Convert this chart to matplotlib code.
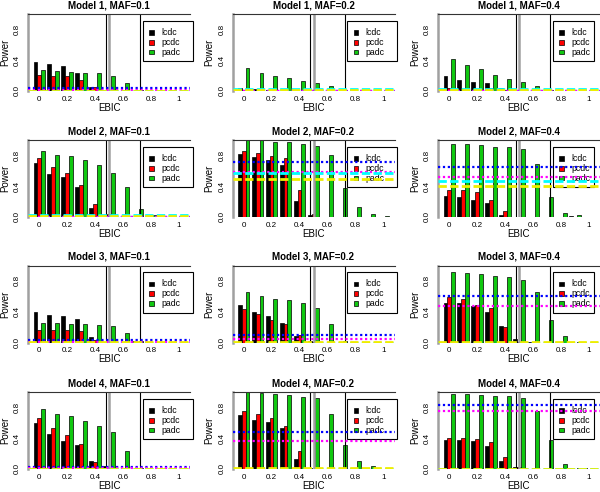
import matplotlib
matplotlib.use('Agg')
import matplotlib.pyplot as plt
from matplotlib.patches import Rectangle
import numpy as np

plt.rcParams['font.family'] = ['Liberation Sans', 'DejaVu Sans']

# ---------------- data ----------------
ebic = [0.0, 0.1, 0.2, 0.3, 0.4, 0.5, 0.6, 0.7, 0.8, 0.9, 1.0]
xtick_vals = [0.0, 0.2, 0.4, 0.6, 0.8, 1.0]
xtick_labels = ['0', '0.2', '0.4', '0.6', '0.8', '1']
ytick_vals = [0.0, 0.4, 0.8]
ytick_labels = ['0.0', '0.4', '0.8']
methods = ['lcdc', 'pcdc', 'padc']
method_colors = ['#000000', '#ff0000', '#10c810']
models = ['Model 1', 'Model 2', 'Model 3', 'Model 4']
mafs = ['0.1', '0.2', '0.4']

# Model 1
m1_01_lcdc = [0.38, 0.35, 0.32, 0.23, 0.05, 0.01, 0.0, 0.0, 0.0, 0.0, 0.0]
m1_01_pcdc = [0.21, 0.195, 0.195, 0.14, 0.05, 0.0, 0.0, 0.0, 0.0, 0.0, 0.0]
m1_01_padc = [0.27, 0.26, 0.25, 0.24, 0.24, 0.20, 0.11, 0.01, 0.0, 0.0, 0.0]
m1_02_lcdc = [0.045, 0.03, 0.01, 0.005, 0.0, 0.0, 0.0, 0.0, 0.0, 0.0, 0.0]
m1_02_pcdc = [0.01, 0.0, 0.0, 0.0, 0.0, 0.0, 0.0, 0.0, 0.0, 0.0, 0.0]
m1_02_padc = [0.30, 0.24, 0.19, 0.17, 0.13, 0.105, 0.06, 0.01, 0.0, 0.0, 0.0]
m1_04_lcdc = [0.19, 0.14, 0.12, 0.11, 0.045, 0.01, 0.005, 0.0, 0.0, 0.0, 0.0]
m1_04_pcdc = [0.035, 0.01, 0.01, 0.035, 0.01, 0.0, 0.0, 0.0, 0.0, 0.0, 0.0]
m1_04_padc = [0.42, 0.34, 0.28, 0.21, 0.16, 0.12, 0.06, 0.01, 0.0, 0.0, 0.0]
# Model 2
m2_01_lcdc = [0.70, 0.56, 0.52, 0.39, 0.12, 0.02, 0.0, 0.0, 0.0, 0.0, 0.0]
m2_01_pcdc = [0.76, 0.65, 0.57, 0.42, 0.17, 0.04, 0.0, 0.0, 0.0, 0.0, 0.0]
m2_01_padc = [0.86, 0.80, 0.79, 0.74, 0.67, 0.57, 0.39, 0.10, 0.02, 0.005, 0.0]
m2_02_lcdc = [0.815, 0.775, 0.74, 0.68, 0.21, 0.025, 0.005, 0.0, 0.0, 0.0, 0.005]
m2_02_pcdc = [0.855, 0.83, 0.79, 0.77, 0.35, 0.045, 0.0, 0.0, 0.0, 0.0, 0.0]
m2_02_padc = [1.0, 0.995, 0.98, 0.98, 0.95, 0.92, 0.81, 0.375, 0.125, 0.035, 0.01]
m2_04_lcdc = [0.275, 0.255, 0.22, 0.185, 0.025, 0.0, 0.0, 0.0, 0.0, 0.01, 0.0]
m2_04_pcdc = [0.355, 0.345, 0.32, 0.22, 0.08, 0.0, 0.0, 0.0, 0.0, 0.0, 0.0]
m2_04_padc = [0.945, 0.945, 0.93, 0.915, 0.915, 0.885, 0.69, 0.255, 0.055, 0.02, 0.005]
# Model 3
m3_01_lcdc = [0.40, 0.36, 0.35, 0.30, 0.065, 0.005, 0.0, 0.02, 0.0, 0.0, 0.0]
m3_01_pcdc = [0.167, 0.167, 0.167, 0.15, 0.035, 0.0, 0.0, 0.0, 0.0, 0.0, 0.0]
m3_01_padc = [0.25, 0.25, 0.24, 0.24, 0.23, 0.22, 0.12, 0.02, 0.0, 0.0, 0.0]
m3_02_lcdc = [0.49, 0.39, 0.35, 0.25, 0.09, 0.02, 0.0, 0.0, 0.0, 0.0, 0.0]
m3_02_pcdc = [0.43, 0.375, 0.29, 0.235, 0.10, 0.01, 0.0, 0.0, 0.0, 0.0, 0.0]
m3_02_padc = [0.66, 0.61, 0.57, 0.55, 0.51, 0.45, 0.24, 0.02, 0.0, 0.0, 0.0]
m3_04_lcdc = [0.51, 0.51, 0.47, 0.40, 0.21, 0.05, 0.01, 0.0, 0.0, 0.0, 0.0]
m3_04_pcdc = [0.59, 0.57, 0.49, 0.45, 0.20, 0.01, 0.0, 0.0, 0.0, 0.0, 0.0]
m3_04_padc = [0.915, 0.90, 0.885, 0.865, 0.845, 0.815, 0.66, 0.29, 0.085, 0.01, 0.0]
# Model 4
m4_01_lcdc = [0.60, 0.455, 0.36, 0.31, 0.11, 0.035, 0.0, 0.0, 0.0, 0.0, 0.0]
m4_01_pcdc = [0.66, 0.53, 0.44, 0.33, 0.095, 0.0, 0.0, 0.0, 0.0, 0.0, 0.0]
m4_01_padc = [0.775, 0.72, 0.69, 0.62, 0.56, 0.485, 0.23, 0.01, 0.0, 0.0, 0.0]
m4_02_lcdc = [0.70, 0.64, 0.61, 0.53, 0.13, 0.01, 0.0, 0.0, 0.0, 0.0, 0.0]
m4_02_pcdc = [0.75, 0.72, 0.66, 0.56, 0.23, 0.005, 0.0, 0.0, 0.0, 0.0, 0.0]
m4_02_padc = [0.995, 0.99, 0.975, 0.955, 0.94, 0.92, 0.72, 0.31, 0.11, 0.035, 0.005]
m4_04_lcdc = [0.375, 0.375, 0.36, 0.30, 0.10, 0.02, 0.0, 0.0, 0.0, 0.015, 0.01]
m4_04_pcdc = [0.405, 0.405, 0.385, 0.345, 0.155, 0.03, 0.0, 0.0, 0.0, 0.0, 0.0]
m4_04_padc = [0.97, 0.97, 0.955, 0.945, 0.945, 0.925, 0.755, 0.375, 0.06, 0.015, 0.01]

# reference lines (blue dotted, magenta dotted, cyan dashed, yellow dashed)
ref_colors = ['#0000ff', '#ff00ff', '#00ffff', '#eeee00']
m1_01_ref = [0.035, 0.01, 0.0, 0.005]
m1_02_ref = [0.005, 0.0, 0.025, 0.01]
m1_04_ref = [0.005, 0.0, 0.025, 0.015]
m2_01_ref = [0.0, 0.005, 0.03, 0.01]
m2_02_ref = [0.71, 0.583, 0.574, 0.49]
m2_04_ref = [0.654, 0.52, 0.469, 0.40]
m3_01_ref = [0.03, 0.005, 0.0, 0.005]
m3_02_ref = [0.10, 0.04, 0.0, 0.01]
m3_04_ref = [0.607, 0.474, 0.0, 0.01]
m4_01_ref = [0.03, 0.01, 0.0, 0.005]
m4_02_ref = [0.476, 0.368, 0.0, 0.01]
m4_04_ref = [0.83, 0.753, 0.0, 0.005]

# vertical guide lines
gray_vlines = [0.5]
black_vlines = [0.475, 0.725]
top_hline = 1.0

panels = [
    [(m1_01_lcdc, m1_01_pcdc, m1_01_padc, m1_01_ref),
     (m1_02_lcdc, m1_02_pcdc, m1_02_padc, m1_02_ref),
     (m1_04_lcdc, m1_04_pcdc, m1_04_padc, m1_04_ref)],
    [(m2_01_lcdc, m2_01_pcdc, m2_01_padc, m2_01_ref),
     (m2_02_lcdc, m2_02_pcdc, m2_02_padc, m2_02_ref),
     (m2_04_lcdc, m2_04_pcdc, m2_04_padc, m2_04_ref)],
    [(m3_01_lcdc, m3_01_pcdc, m3_01_padc, m3_01_ref),
     (m3_02_lcdc, m3_02_pcdc, m3_02_padc, m3_02_ref),
     (m3_04_lcdc, m3_04_pcdc, m3_04_padc, m3_04_ref)],
    [(m4_01_lcdc, m4_01_pcdc, m4_01_padc, m4_01_ref),
     (m4_02_lcdc, m4_02_pcdc, m4_02_padc, m4_02_ref),
     (m4_04_lcdc, m4_04_pcdc, m4_04_padc, m4_04_ref)],
]

# ---------------- layout ----------------
W, H = 600, 492
fig = plt.figure(figsize=(W / 100, H / 100), dpi=100)
col_left = [28, 232.5, 438]
row_top = [14, 140, 265.5, 392]
ax_w, ax_h = 162, 77
xmin, xmax = -0.08, 1.08
bw = 0.027
leg_right = [1.098, 1.098, 1.036]

ref_styles = [(0, (1, 1.2)), (0, (1, 1.2)), (0, (3, 1.2)), (0, (3, 1.2))]
ref_widths = [1.6, 1.6, 2.0, 2.0]

x = np.array(ebic)
for r in range(4):
    for c in range(3):
        lc, pc, pa, ref = panels[r][c]
        ax = fig.add_axes([col_left[c] / W, 1 - (row_top[r] + ax_h) / H,
                           ax_w / W, ax_h / H])
        ax.set_xlim(xmin, xmax)
        ax.set_ylim(0, 1)
        for s in ax.spines.values():
            s.set_visible(False)
        for k, (vals, col) in enumerate(zip((lc, pc, pa), method_colors)):
            ax.bar(x + (k - 1) * bw, vals, width=bw, color=col,
                   edgecolor='black', linewidth=0.5, zorder=2)
        # guide lines
        ax.axvline(xmin, color='#a0a0a0', lw=1.8, zorder=3, clip_on=False)
        for v in gray_vlines:
            ax.axvline(v, color='#a0a0a0', lw=1.8, zorder=3)
        for v in black_vlines:
            ax.axvline(v, color='black', lw=0.8, zorder=3)
        ax.axhline(top_hline, color='#333333', lw=0.8, zorder=3, clip_on=False)
        # legend (manual, R style)
        lx0, lx1 = 0.74, leg_right[c]
        ly0, ly1 = 0.385, 0.91
        ax.add_patch(Rectangle((lx0, ly0), lx1 - lx0, ly1 - ly0, facecolor='white',
                               edgecolor='black', lw=0.8, zorder=4, clip_on=False))
        for k, (name, col) in enumerate(zip(methods, method_colors)):
            yy = ly1 - 0.15 - k * 0.127
            ax.add_patch(Rectangle((0.788, yy - 0.03), 0.033, 0.06, facecolor=col,
                                   edgecolor='black', lw=0.5, zorder=4.5, clip_on=False))
            ax.text(0.872, yy, name, fontsize=6.3, va='center', ha='left', zorder=4.6)
        # reference lines
        for val, col, ls, lw in zip(ref, ref_colors, ref_styles, ref_widths):
            ax.axhline(val, color=col, linestyle=ls, lw=lw, zorder=5)
        # axes text
        ax.set_xticks(xtick_vals)
        ax.set_xticklabels(xtick_labels, fontsize=5.8)
        ax.set_yticks(ytick_vals)
        ax.set_yticklabels(ytick_labels, fontsize=5.8, rotation=90, va='center')
        ax.tick_params(axis='x', length=0, pad=3.5)
        ax.tick_params(axis='y', length=0, pad=5)
        ax.set_xlabel('EBIC', fontsize=7)
        ax.xaxis.label.set_va('center')
        ax.xaxis.set_label_coords(0.5, -17 / ax_h)
        ax.set_ylabel('Power', fontsize=7)
        ax.yaxis.label.set_va('center')
        ax.yaxis.set_label_coords(-23 / ax_w, 0.5)
        ax.set_title(f'{models[r]}, MAF={mafs[c]}', fontsize=7, fontweight='bold', pad=4)

fig.savefig('out.png', dpi=100)
